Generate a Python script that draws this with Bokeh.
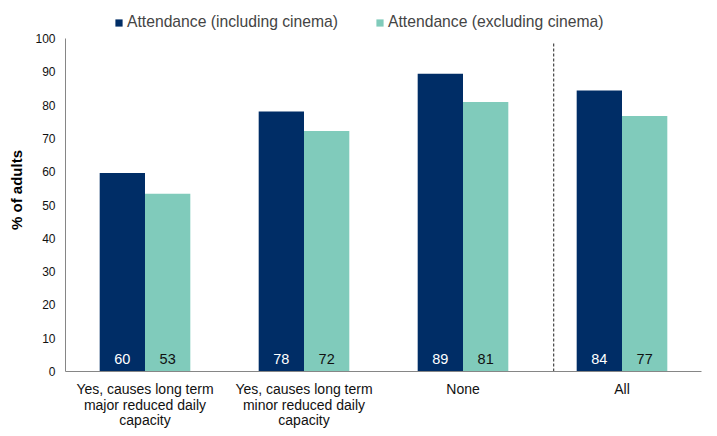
from bokeh.plotting import figure
from bokeh.models import (Range1d, FixedTicker, ColumnDataSource, Legend,
                          LegendItem, LinearAxis)
from bokeh.embed import file_html
from bokeh.resources import INLINE
from bokeh.core.properties import value

# ---- data ----
categories = [
    "Yes, causes long term\nmajor reduced daily\ncapacity",
    "Yes, causes long term\nminor reduced daily\ncapacity",
    "None",
    "All",
]
series_names = ["Attendance (including cinema)", "Attendance (excluding cinema)"]
incl = [59.6, 78.1, 89.4, 84.4]
excl = [53.4, 72.2, 80.9, 76.7]
incl_labels = ["60", "78", "89", "84"]
excl_labels = ["53", "72", "81", "77"]
y_ticks = [0, 10, 20, 30, 40, 50, 60, 70, 80, 90, 100]

DARK = "#002D66"
TEAL = "#80CBBB"
AXIS = "#868686"
FONT = "Liberation Sans"

W, H = 712, 434
B_LEFT, B_TOP, B_RIGHT = 65, 8, 11
FRAME_BOTTOM = 371
B_BOTTOM = H - FRAME_BOTTOM
FRAME_H = FRAME_BOTTOM - B_TOP
PX_PER_UNIT = 3.33
Y_TOP = FRAME_H / PX_PER_UNIT   # extra room above 100 holds the legend

p = figure(width=W, height=H, output_backend="svg", toolbar_location=None,
           x_range=Range1d(0, len(categories)), y_range=Range1d(0, Y_TOP),
           min_border_left=B_LEFT, min_border_right=B_RIGHT, min_border_top=B_TOP,
           min_border_bottom=B_BOTTOM)

centers = [i + 0.5 for i in range(len(categories))]
w = 0.285
src = ColumnDataSource(dict(
    x_incl=[c - w / 2 for c in centers],
    x_excl=[c + w / 2 for c in centers],
    incl=incl, excl=excl,
    lab_incl=incl_labels, lab_excl=excl_labels,
))

r1 = p.vbar(x="x_incl", top="incl", bottom=0, width=w, fill_color=DARK,
            line_color=None, source=src)
r2 = p.vbar(x="x_excl", top="excl", bottom=0, width=w, fill_color=TEAL,
            line_color=None, source=src)

p.text(x="x_incl", y=3.7, text="lab_incl", text_color="white",
       text_align="center", text_baseline="middle",
       text_font=value(FONT), text_font_size="14.5px", source=src)
p.text(x="x_excl", y=3.7, text="lab_excl", text_color="#111111",
       text_align="center", text_baseline="middle",
       text_font=value(FONT), text_font_size="14.5px", source=src)

# divider before "All"
div_x = len(categories) - 1 + 0.07
p.segment(x0=div_x, y0=0, x1=div_x, y1=99, line_color="#505050",
          line_width=1.3, line_dash="3 2")

legend = Legend(items=[LegendItem(label=series_names[0], renderers=[r1]),
                       LegendItem(label=series_names[1], renderers=[r2])],
                orientation="horizontal", location=(49, FRAME_H - 23),
                glyph_width=9, glyph_height=9, label_standoff=4, spacing=37,
                padding=0, margin=0, border_line_color=None,
                background_fill_alpha=0, label_text_font=FONT,
                label_text_font_size="15.7px", label_height=16)
p.add_layout(legend)

p.xgrid.visible = False
p.ygrid.visible = False
p.outline_line_color = None

# category labels: one axis per text line, stacked below the frame
lines = [cat.split("\n") for cat in categories]
n_lines = max(len(l) for l in lines)
standoffs = [9, -3, -4]

xa = p.xaxis[0]
axes = [xa]
for k in range(1, n_lines):
    ax = LinearAxis()
    p.add_layout(ax, "below")
    axes.append(ax)

for k, ax in enumerate(axes):
    ticks_k = [c for c, l in zip(centers, lines) if k < len(l)]
    ax.ticker = FixedTicker(ticks=ticks_k)
    ax.major_label_overrides = {c: l[k] for c, l in zip(centers, lines) if k < len(l)}
    ax.major_tick_line_color = None
    ax.minor_tick_line_color = None
    ax.major_tick_out = 0
    ax.major_tick_in = 0
    ax.axis_line_color = AXIS if k == 0 else None
    ax.major_label_standoff = standoffs[k]
    ax.major_label_text_font = FONT
    ax.major_label_text_font_size = "14px"
    ax.major_label_text_color = "#111111"

ya = p.yaxis[0]
ya.ticker = FixedTicker(ticks=y_ticks)
ya.bounds = (y_ticks[0], y_ticks[-1])
ya.major_tick_line_color = None
ya.minor_tick_line_color = None
ya.major_tick_out = 0
ya.major_tick_in = 0
ya.axis_line_color = AXIS
ya.major_label_standoff = 10
ya.major_label_text_font = FONT
ya.major_label_text_font_size = "12px"
ya.major_label_text_color = "#111111"
ya.axis_label = "% of adults"
ya.axis_label_text_font = FONT
ya.axis_label_text_font_style = "bold"
ya.axis_label_text_font_size = "15px"
ya.axis_label_text_color = "#000000"
ya.axis_label_standoff = 7

open("out.html", "w").write(file_html(p, INLINE))
